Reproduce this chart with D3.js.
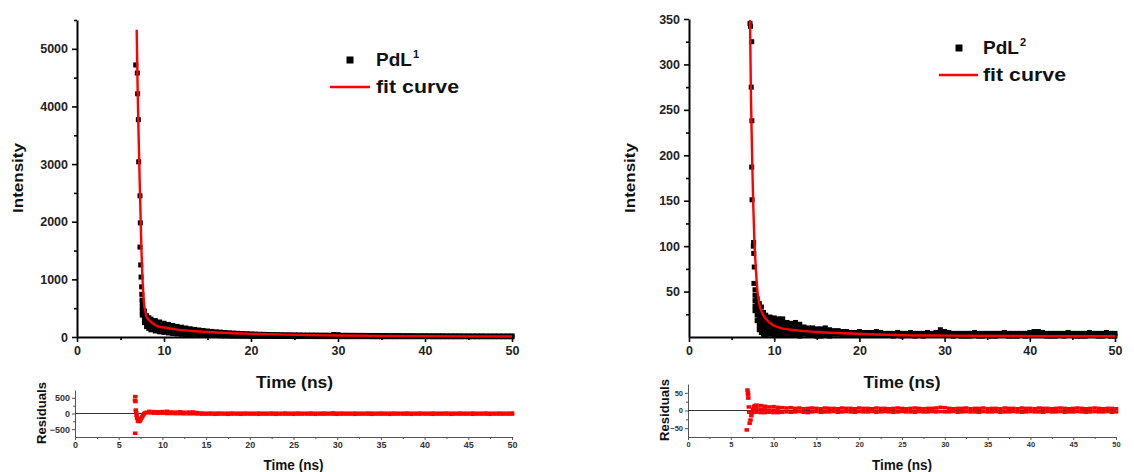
<!DOCTYPE html>
<html>
<head>
<meta charset="utf-8">
<script src="https://cdn.jsdelivr.net/npm/d3@7"></script>
<style>
  body { margin: 0; background: #fff; }
  svg text { font-family: "Liberation Sans", Arial, sans-serif; }
</style>
</head>
<body>
<svg id="chart" width="1134" height="472"></svg>
<script>
// ---------- PdL1 decay: counts vs time (ns) ----------
const pdl1PeakTime   = [6.75, 6.93, 6.97, 7.05, 7.09, 7.24, 7.28, 7.24, 7.32, 7.36, 7.43, 7.45, 7.48];
const pdl1PeakCounts = [4720, 4580, 4220, 3770, 3040, 2450, 1980, 1560, 1250, 1040, 870, 740, 640];
const pdl1Time = [7.5, 7.75, 8, 8.25, 8.5, 9, 9.5, 10, 10.5, 11, 11.5, 12, 12.5, 13, 13.5, 14, 14.5, 15, 15.5, 16,
  16.5, 17, 17.5, 18, 18.5, 19, 19.5, 20, 20.5, 21, 21.5, 22, 22.5, 23, 23.5, 24, 24.5, 25, 25.5, 26,
  26.5, 27, 27.5, 28, 28.5, 29, 29.5, 30, 30.5, 31, 31.5, 32, 32.5, 33, 33.5, 34, 34.5, 35, 35.5, 36,
  36.5, 37, 37.5, 38, 38.5, 39, 39.5, 40, 40.5, 41, 41.5, 42, 42.5, 43, 43.5, 44, 44.5, 45, 45.5, 46,
  46.5, 47, 47.5, 48, 48.5, 49, 49.5, 50];
const pdl1Counts = [
  [600, 520, 450, 380], [450, 380, 310, 250], [370, 300, 235, 180], [335, 265, 200, 150], [310, 240, 175, 125],
  [285, 215, 150, 105], [260, 195, 135, 90], [238, 175, 120, 80], [218, 160, 108, 70], [200, 145, 98, 60],
  [184, 132, 88, 52], [170, 120, 78, 46], [156, 108, 70, 40], [143, 98, 62, 35], [132, 88, 45], [122, 80, 40],
  [113, 72, 36], [104, 66, 32], [97, 60, 28], [90, 55, 25], [84, 50, 22], [78, 46, 20], [73, 42, 18], [68, 38, 16],
  [64, 35, 15], [60, 32, 14], [57, 13], [54, 12], [51, 12], [48, 11], [46, 11], [44, 10],
  [42, 10], [41, 10], [40, 9], [39, 9], [38, 9], [37, 8], [36, 8], [35, 8],
  [34, 8], [34, 8], [33, 7], [32, 7], [32, 7], [31, 7], [44, 7], [40, 7], [30, 6],
  [30, 6], [29, 6], [29, 6], [28, 6], [28, 6], [27, 6], [27, 5], [27, 5], [26, 5],
  [26, 5], [25, 5], [25, 5], [25, 5], [24, 5], [24, 5], [24, 5], [23, 5], [23, 5],
  [23, 5], [22, 5], [22, 4], [22, 4], [22, 4], [21, 4], [21, 4], [21, 4], [21, 4],
  [20, 4], [20, 4], [20, 4], [20, 4], [20, 4], [19, 4], [19, 4], [19, 4], [19, 4],
  [19, 4], [19, 4], [19, 4]
];
const pdl1FitTime   = [6.86, 6.97, 7.05, 7.13, 7.22, 7.32, 7.4, 7.5, 7.6, 7.7, 7.85, 8.0, 8.3, 8.7, 9.3, 10,
  11, 12, 13.2, 14.5, 16, 18, 20.8, 24, 27, 30, 35, 40, 45, 50];
const pdl1FitCounts = [5330, 4290, 3700, 3190, 2600, 2030, 1550, 1110, 800, 590, 440, 350, 290, 240, 185, 165,
  140, 120, 104, 90, 77, 64, 52, 41, 33, 27, 20, 15, 11, 9];

// ---------- PdL2 decay ----------
const pdl2PeakTime   = [7.16, 7.22, 7.36, 7.3, 7.38, 7.36, 7.4, 7.58, 7.55, 7.6, 7.66, 7.62];
const pdl2PeakCounts = [345, 342, 325, 275, 238, 187, 151, 104, 100, 92, 77, 59];
const pdl2Time = [7.75, 8, 8.25, 8.5, 8.75, 9, 9.5, 10, 10.5, 11, 11.5, 12, 12.5, 13, 13.5, 14, 14.5, 15, 15.5, 16,
  16.5, 17, 17.5, 18, 18.5, 19, 19.5, 20, 20.5, 21, 21.5, 22, 22.5, 23, 23.5, 24, 24.5, 25, 25.5, 26,
  26.5, 27, 27.5, 28, 28.5, 29, 29.5, 30, 30.5, 31, 31.5, 32, 32.5, 33, 33.5, 34, 34.5, 35, 35.5, 36,
  36.5, 37, 37.5, 38, 38.5, 39, 39.5, 40, 40.5, 41, 41.5, 42, 42.5, 43, 43.5, 44, 44.5, 45, 45.5, 46,
  46.5, 47, 47.5, 48, 48.5, 49, 49.5, 50];
const pdl2Counts = [
  [52, 46, 40, 34, 29], [42, 36, 30, 24, 18], [37, 31, 25, 19, 13, 8], [33, 27, 21, 15, 9, 5],
  [27, 22, 16, 11, 6, 3], [24, 19, 14, 9, 5, 2], [22, 17, 12, 7, 3], [21, 16, 11, 6, 2],
  [20, 15, 10, 5, 2], [20, 15, 10, 5, 2], [16, 11, 6, 2], [15, 10, 6, 2], [16, 11, 6, 2],
  [14, 9, 5, 1], [11, 7, 3], [10, 6, 2], [10, 6, 2], [9, 5, 1], [9, 5, 1], [10, 6, 2],
  [8, 4, 1], [7, 3], [7, 3], [6, 2], [6, 2], [5, 2], [5, 2], [6, 2], [5, 2], [5, 2],
  [5, 2], [6, 2], [5, 2], [4, 2], [4, 2], [4, 1], [5, 2], [4, 1], [4, 2], [5, 2],
  [4, 1], [4, 2], [4, 1], [5, 2], [4, 2], [5, 2], [8, 3], [6, 2], [5, 2], [4, 1],
  [4, 2], [4, 1], [4, 1], [4, 1], [5, 2], [4, 1], [4, 1], [4, 2], [4, 1], [4, 1],
  [4, 2], [5, 2], [4, 1], [4, 1], [4, 1], [4, 2], [4, 1], [5, 2], [6, 2], [6, 2],
  [5, 2], [4, 1], [4, 1], [4, 1], [4, 2], [4, 1], [5, 2], [4, 2], [4, 1], [4, 1],
  [4, 1], [5, 2], [4, 2], [4, 1], [4, 1], [5, 2], [4, 1], [4, 1]
];
const pdl2FitTime   = [7.16, 7.28, 7.43, 7.55, 7.67, 7.83, 8.02, 8.33, 9.1, 10.7, 13, 16, 20, 25, 30, 40, 50];
const pdl2FitCounts = [349, 261, 188, 143, 107, 78, 52, 33, 19, 10, 7, 5, 3.5, 2, 1.5, 1, 0.8];

// ---------- Fit residuals ----------
const resid1EarlyTime  = [6.86, 6.9, 6.92, 6.88, 6.95, 7.0, 7.05, 7.1, 7.2, 7.3, 7.4, 7.5, 7.6, 7.7, 7.8, 7.9, 8.0, 8.2];
const resid1EarlyValue = [420, 540, 380, -630, 110, 30, -60, -150, -240, -260, -240, -200, -150, -100, -50, -10, 20, 40];
const resid1Time = [8.5, 9, 9.5, 10, 10.5, 11, 11.5, 12, 12.5, 13, 13.5, 14, 14.5, 15, 15.5, 16, 16.5, 17, 17.5,
  18, 18.5, 19, 19.5, 20, 20.5, 21, 21.5, 22, 22.5, 23, 23.5, 24, 24.5, 25, 25.5, 26, 26.5, 27, 27.5,
  28, 28.5, 29, 29.5, 30, 30.5, 31, 31.5, 32, 32.5, 33, 33.5, 34, 34.5, 35, 35.5, 36, 36.5, 37, 37.5,
  38, 38.5, 39, 39.5, 40, 40.5, 41, 41.5, 42, 42.5, 43, 43.5, 44, 44.5, 45, 45.5, 46, 46.5, 47, 47.5,
  48, 48.5, 49, 49.5, 50];
const resid1Value = [
  [70, 20], [60, 10], [55, 5], [60, 10], [70, 0], [50, 0], [45, -5], [55, -5], [40, -10], [45, -10],
  [50, -10], [30, -15], [15, -20], [10, -20], [15, -20], [10, -25], [15, -20], [10, -20], [10, -25],
  [15, -20], [10, -20], [10, -25], [15, -20], [10, -20], [10, -20], [15, -25], [10, -20], [10, -20],
  [15, -20], [10, -25], [10, -20], [15, -20], [10, -20], [10, -25], [15, -20], [10, -20], [10, -20],
  [15, -20], [10, -25], [10, -20], [15, -20], [10, -20], [20, -20], [10, -25], [15, -20], [10, -20],
  [10, -20], [15, -25], [10, -20], [10, -20], [15, -20], [10, -25], [10, -20], [15, -20], [10, -20],
  [10, -25], [15, -20], [10, -20], [10, -20], [15, -20], [10, -25], [10, -20], [15, -20], [10, -20],
  [10, -20], [15, -25], [10, -20], [10, -20], [15, -20], [10, -25], [10, -20], [15, -20], [10, -20],
  [10, -20], [15, -25], [10, -20], [10, -20], [15, -20], [10, -25], [10, -20], [15, -20], [10, -20],
  [10, -20], [15, -20]
];
const resid2EarlyTime  = [6.86, 6.95, 7.0, 7.02, 7.05, 7.1, 7.15, 7.2, 7.3, 7.4, 7.5, 7.6, 7.7, 7.8];
const resid2EarlyValue = [-55, 58, 50, 44, 35, 10, -5, -36, -27, -15, -6, 4, 11, 14];
const resid2Time = [8, 8.5, 9, 9.5, 10, 10.5, 11, 11.5, 12, 12.5, 13, 13.5, 14, 14.5, 15, 15.5, 16, 16.5, 17, 17.5,
  18, 18.5, 19, 19.5, 20, 20.5, 21, 21.5, 22, 22.5, 23, 23.5, 24, 24.5, 25, 25.5, 26, 26.5, 27, 27.5,
  28, 28.5, 29, 29.5, 30, 30.5, 31, 31.5, 32, 32.5, 33, 33.5, 34, 34.5, 35, 35.5, 36, 36.5, 37, 37.5,
  38, 38.5, 39, 39.5, 40, 40.5, 41, 41.5, 42, 42.5, 43, 43.5, 44, 44.5, 45, 45.5, 46, 46.5, 47, 47.5,
  48, 48.5, 49, 49.5, 50];
const resid2Value = [
  [15, 5, -5], [14, 4, -6], [12, 2, -6], [10, 0, -5], [11, 1, -6], [9, -1, -6], [8, -5], [7, -4],
  [8, -5], [6, -4], [7, -3], [5, -5], [6, -6], [7, -4], [6, -3], [5, -5], [7, -4], [6, -4], [6, -3],
  [5, -5], [7, -4], [6, -3], [6, -4], [5, -5], [7, -3], [6, -4], [6, -4], [5, -3], [7, -5], [6, -4],
  [6, -3], [5, -4], [6, -5], [7, -4], [6, -3], [5, -4], [6, -4], [7, -5], [6, -3], [5, -4], [6, -4],
  [6, -3], [7, -4], [9, -3], [8, -4], [6, -4], [5, -3], [6, -5], [6, -4], [7, -3], [5, -4], [6, -4],
  [6, -5], [7, -3], [5, -4], [6, -4], [6, -3], [5, -5], [7, -4], [6, -4], [6, -3], [5, -4], [7, -5],
  [6, -4], [6, -3], [5, -4], [7, -4], [6, -5], [6, -3], [5, -4], [6, -4], [7, -3], [6, -5], [5, -4],
  [6, -4], [7, -3], [6, -4], [5, -5], [6, -4], [7, -3], [6, -4], [5, -4], [6, -3], [6, -5], [5, -4]
];

// ---------- Axis tick definitions ----------
const timeMainTicks   = [0, 10, 20, 30, 40, 50];
const timeResidTicks  = [0, 5, 10, 15, 20, 25, 30, 35, 40, 45, 50];
const pdl1IntensityTicks = [0, 1000, 2000, 3000, 4000, 5000];
const pdl2IntensityTicks = [50, 100, 150, 200, 250, 300, 350];
const resid1Ticks = [-500, 0, 500];
const resid2Ticks = [-50, 0, 50];

const svg = d3.select("#chart");
const RED = "#ff0000";
const plain = d3.format("d");

function expand(times, lists) {
  return times.flatMap((t, i) => lists[i].map(v => ({ t, v })));
}
function pairs(times, vals) {
  return times.map((t, i) => ({ t, v: vals[i] }));
}

function styleAxis(g, o) {
  g.select(".domain").attr("stroke", o.color).attr("stroke-width", o.width);
  g.selectAll(".tick line").attr("stroke", o.color).attr("stroke-width", o.tickWidth);
  g.selectAll(".tick text")
    .attr("fill", o.textColor)
    .attr("font-size", o.fontSize)
    .attr("font-weight", "bold");
}

function drawMain(p) {
  const x = d3.scaleLinear().domain([0, 50]).range(p.xRange);
  const y = d3.scaleLinear().domain(p.yDomain).range(p.yRange);
  const g = svg.append("g");
  const axisStyle = { color: "#000", width: 2, tickWidth: 1.6, textColor: "#222", fontSize: 12.5 };

  // minor ticks
  g.append("g").attr("transform", `translate(0,${p.yRange[0]})`)
    .call(d3.axisBottom(x).tickValues(d3.range(5, 50, 10)).tickSize(3).tickFormat("").tickSizeOuter(0))
    .call(s => { s.select(".domain").remove(); s.selectAll("line").attr("stroke", "#000").attr("stroke-width", 1.6); });
  g.append("g").attr("transform", `translate(${p.xRange[0]},0)`)
    .call(d3.axisLeft(y).tickValues(p.yMinor).tickSize(3).tickFormat("").tickSizeOuter(0))
    .call(s => { s.select(".domain").remove(); s.selectAll("line").attr("stroke", "#000").attr("stroke-width", 1.6); });

  const xa = g.append("g").attr("transform", `translate(0,${p.yRange[0]})`)
    .call(d3.axisBottom(x).tickValues(timeMainTicks).tickFormat(plain).tickSize(5).tickPadding(4).tickSizeOuter(0));
  styleAxis(xa, axisStyle);
  const ya = g.append("g").attr("transform", `translate(${p.xRange[0]},0)`)
    .call(d3.axisLeft(y).tickValues(p.yTicks).tickFormat(plain).tickSize(5).tickPadding(p.yPad).tickSizeOuter(0));
  styleAxis(ya, axisStyle);

  // measured counts
  const pts = pairs(p.peakT, p.peakV).concat(expand(p.bandT, p.bandV));
  const s = 5;
  g.append("g").selectAll("rect").data(pts).join("rect")
    .attr("x", d => x(d.t) - s / 2).attr("y", d => y(d.v) - s / 2)
    .attr("width", s).attr("height", s).attr("fill", "#000");

  // fitted decay
  const line = d3.line().x(d => x(d.t)).y(d => y(d.v)).curve(d3.curveMonotoneX);
  g.append("path").datum(pairs(p.fitT, p.fitV))
    .attr("d", line).attr("fill", "none").attr("stroke", RED).attr("stroke-width", 2.4);

  // axis titles
  g.append("text").attr("x", d3.mean(p.xRange)).attr("y", 388)
    .attr("text-anchor", "middle").attr("font-size", 16).attr("font-weight", "bold").attr("fill", "#111")
    .attr("textLength", 77).attr("lengthAdjust", "spacingAndGlyphs").text("Time (ns)");
  g.append("text").attr("transform", `translate(${p.yTitleX},178) rotate(-90)`)
    .attr("text-anchor", "middle").attr("font-size", 14).attr("font-weight", "bold").attr("fill", "#111")
    .attr("textLength", 70).attr("lengthAdjust", "spacingAndGlyphs").text("Intensity");

  // legend
  const L = p.legend;
  g.append("rect").attr("x", L.sq[0] - 3.5).attr("y", L.sq[1] - 3.5).attr("width", 7).attr("height", 7).attr("fill", "#000");
  const t1 = g.append("text").attr("x", L.tx).attr("y", L.y1).attr("font-size", 19).attr("font-weight", "bold").attr("fill", "#111");
  t1.append("tspan").text("PdL");
  t1.append("tspan").attr("font-size", 11).attr("dy", -8).attr("dx", 1).text(L.sup);
  g.append("line").attr("x1", L.line[0]).attr("x2", L.line[1]).attr("y1", L.line[2]).attr("y2", L.line[2])
    .attr("stroke", RED).attr("stroke-width", 2.6);
  g.append("text").attr("x", L.tx).attr("y", L.y2).attr("font-size", 19).attr("font-weight", "bold").attr("fill", "#111")
    .attr("textLength", 83).attr("lengthAdjust", "spacingAndGlyphs").text("fit curve");
}

function drawResid(p) {
  const x = d3.scaleLinear().domain([0, 50]).range(p.xRange);
  const y = d3.scaleLinear().domain(p.yDomain).range(p.yRange);
  const g = svg.append("g");
  const axisStyle = { color: "#555", width: 1, tickWidth: 1, textColor: "#333", fontSize: p.fontSize };

  g.append("g").attr("transform", `translate(0,${p.yRange[0]})`)
    .call(d3.axisBottom(x).tickValues(d3.range(2.5, 50, 5)).tickSize(2).tickFormat("").tickSizeOuter(0))
    .call(s => { s.select(".domain").remove(); s.selectAll("line").attr("stroke", "#555"); });
  g.append("g").attr("transform", `translate(${p.xRange[0]},0)`)
    .call(d3.axisLeft(y).tickValues(p.yMinor).tickSize(2).tickFormat("").tickSizeOuter(0))
    .call(s => { s.select(".domain").remove(); s.selectAll("line").attr("stroke", "#555"); });

  const xa = g.append("g").attr("transform", `translate(0,${p.yRange[0]})`)
    .call(d3.axisBottom(x).tickValues(timeResidTicks).tickFormat(plain).tickSize(3).tickPadding(2).tickSizeOuter(0));
  styleAxis(xa, axisStyle);
  const ya = g.append("g").attr("transform", `translate(${p.xRange[0]},0)`)
    .call(d3.axisLeft(y).tickValues(p.yTicks).tickFormat(plain).tickSize(3).tickPadding(2).tickSizeOuter(0));
  styleAxis(ya, axisStyle);

  // zero reference line
  g.append("line").attr("x1", p.xRange[0]).attr("x2", p.xRange[1]).attr("y1", y(0)).attr("y2", y(0))
    .attr("stroke", "#333").attr("stroke-width", 1);

  const pts = pairs(p.earlyT, p.earlyV).concat(expand(p.bandT, p.bandV));
  const s = 4.5;
  g.append("g").selectAll("rect").data(pts).join("rect")
    .attr("x", d => x(d.t) - s / 2).attr("y", d => y(d.v) - 1.75)
    .attr("width", s).attr("height", 3.5).attr("fill", RED);

  g.append("text").attr("x", d3.mean(p.xRange)).attr("y", 470)
    .attr("text-anchor", "middle").attr("font-size", 14).attr("font-weight", "bold").attr("fill", "#111")
    .attr("textLength", 60).attr("lengthAdjust", "spacingAndGlyphs").text("Time (ns)");
  g.append("text").attr("transform", `translate(${p.yTitleX},${p.yTitleY}) rotate(-90)`)
    .attr("text-anchor", "middle").attr("font-size", 12).attr("font-weight", "bold").attr("fill", "#111")
    .attr("textLength", 62).attr("lengthAdjust", "spacingAndGlyphs").text("Residuals");
}

drawMain({
  xRange: [77, 512], yDomain: [0, 5500], yRange: [337, 20],
  yTicks: pdl1IntensityTicks, yMinor: [500, 1500, 2500, 3500, 4500, 5500], yPad: 4, yTitleX: 23,
  peakT: pdl1PeakTime, peakV: pdl1PeakCounts, bandT: pdl1Time, bandV: pdl1Counts,
  fitT: pdl1FitTime, fitV: pdl1FitCounts,
  legend: { sq: [350, 60], tx: 376, y1: 66, y2: 93, sup: "1", line: [330, 370, 87] }
});
drawMain({
  xRange: [689, 1115], yDomain: [0, 350], yRange: [337, 19],
  yTicks: pdl2IntensityTicks, yMinor: [25, 75, 125, 175, 225, 275, 325], yPad: 4, yTitleX: 635,
  peakT: pdl2PeakTime, peakV: pdl2PeakCounts, bandT: pdl2Time, bandV: pdl2Counts,
  fitT: pdl2FitTime, fitV: pdl2FitCounts,
  legend: { sq: [959, 48], tx: 983, y1: 54, y2: 81, sup: "2", line: [939, 978, 75] }
});
drawResid({
  xRange: [75, 512], yDomain: [-750, 750], yRange: [437, 390], fontSize: 9,
  yTicks: resid1Ticks, yMinor: [-250, 250], yTitleX: 46, yTitleY: 413,
  earlyT: resid1EarlyTime, earlyV: resid1EarlyValue, bandT: resid1Time, bandV: resid1Value
});
drawResid({
  xRange: [688, 1116], yDomain: [-75, 75], yRange: [437, 384], fontSize: 7.5,
  yTicks: resid2Ticks, yMinor: [-25, 25], yTitleX: 669, yTitleY: 410,
  earlyT: resid2EarlyTime, earlyV: resid2EarlyValue, bandT: resid2Time, bandV: resid2Value
});
</script>
</body>
</html>
